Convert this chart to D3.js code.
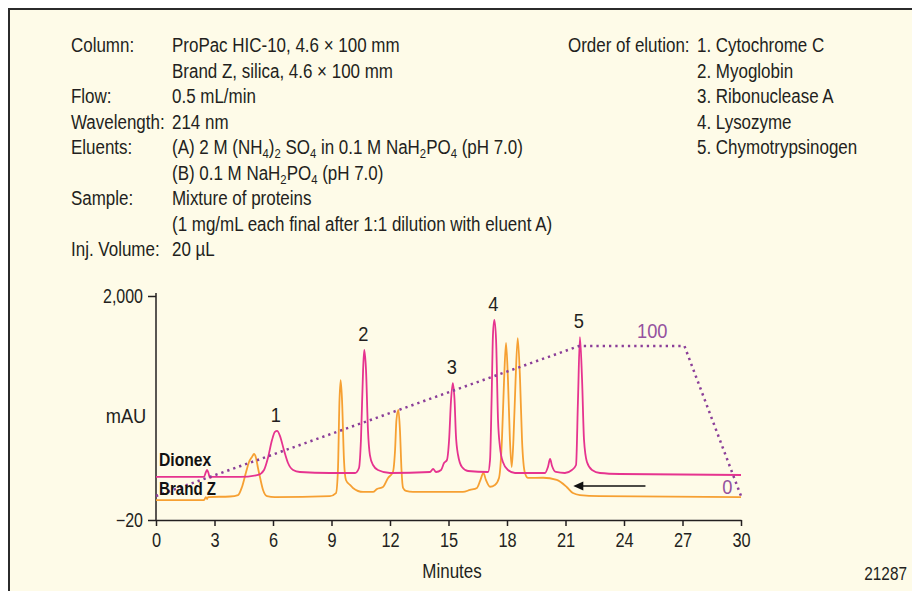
<!DOCTYPE html>
<html><head><meta charset="utf-8">
<script src="https://cdn.jsdelivr.net/npm/d3@7"></script>
<style>
html,body{margin:0;padding:0;background:#fff;}
svg{display:block;}
text{font-family:"Liberation Sans","Arial",sans-serif;fill:#231f20;}
</style></head><body><svg id="c" width="912" height="591"></svg>
<script>
// ---- data ----
const headerLabels = ["Column:", "", "Flow:", "Wavelength:", "Eluents:", "", "Sample:", "", "Inj. Volume:"];
const headerValues = [
  "ProPac HIC-10, 4.6 \u00d7 100 mm",
  "Brand Z, silica, 4.6 \u00d7 100 mm",
  "0.5 mL/min",
  "214 nm",
  "(A) 2 M (NH_4)_2 SO_4 in 0.1 M NaH_2PO_4 (pH 7.0)",
  "(B) 0.1 M NaH_2PO_4 (pH 7.0)",
  "Mixture of proteins",
  "(1 mg/mL each final after 1:1 dilution with eluent A)",
  "20 \u00b5L"
];
const elutionTitle = "Order of elution:";
const elution = ["1. Cytochrome C", "2. Myoglobin", "3. Ribonuclease A", "4. Lysozyme", "5. Chymotrypsinogen"];

const xTicks = [0, 3, 6, 9, 12, 15, 18, 21, 24, 27, 30];
const yTicks = [2000, -20];
const yTickLabels = ["2,000", "\u221220"];

// Dionex (ProPac HIC-10) trace: minutes, mAU
const dionexT = [0, 2.46, 2.56, 2.62, 2.69, 2.77, 2.87, 4.31, 5.23, 5.54, 5.74, 5.95, 6.10, 6.21, 6.36, 6.56, 6.77, 7.03, 7.38, 8.92,
  10.21, 10.41, 10.51, 10.62, 10.68, 10.77, 10.87, 10.97, 11.13, 11.38, 12.0, 14.05, 14.21, 14.36, 14.62, 14.77, 14.92, 15.03, 15.13, 15.22,
  15.31, 15.38, 15.49, 15.69, 16.0, 17.03, 17.13, 17.21, 17.28, 17.35, 17.44, 17.54, 17.64, 17.79, 18.05, 18.41, 19.95, 20.1, 20.21, 20.31,
  20.51, 20.97, 21.33, 21.54, 21.64, 21.74, 21.85, 21.95, 22.1, 22.36, 22.77, 23.79, 30];
const dionexV = [368, 368, 413, 431, 404, 359, 368, 368, 386, 431, 539, 701, 774, 783, 737, 611, 494, 431, 413, 404,
  404, 449, 701, 1333, 1513, 1333, 792, 566, 476, 431, 404, 413, 440, 413, 431, 494, 521, 701, 1062, 1215,
  1062, 747, 566, 458, 422, 413, 521, 1062, 1648, 1784, 1603, 882, 638, 503, 431, 404, 404, 458, 530, 467,
  413, 404, 431, 476, 1062, 1630, 1242, 701, 503, 431, 404, 395, 386];

// Brand Z trace: minutes, mAU
const brandT = [0, 2.46, 2.56, 2.62, 2.67, 3.79, 4.21, 4.41, 4.62, 4.77, 4.92, 5.03, 5.13, 5.23, 5.33, 5.49, 5.69, 6.10, 8.92, 9.23,
  9.33, 9.41, 9.47, 9.54, 9.64, 9.74, 9.95, 10.1, 10.62, 11.13, 11.33, 11.64, 11.9, 12.15, 12.26, 12.33, 12.43, 12.51, 12.59, 12.67,
  12.82, 13.18, 15.74, 16.1, 16.46, 16.62, 16.79, 16.92, 17.13, 17.38, 17.59, 17.74, 17.85, 17.95, 18.05, 18.15, 18.24, 18.33, 18.44, 18.55,
  18.67, 18.77, 18.92, 19.08, 19.85, 20.55, 21.06, 21.38, 21.74, 22.77, 30];
const brandV = [160, 160, 187, 169, 187, 192, 205, 278, 413, 503, 548, 575, 539, 449, 368, 251, 196, 187, 196, 223,
  431, 1062, 1242, 1062, 521, 341, 296, 269, 233, 233, 260, 278, 359, 413, 611, 882, 972, 792, 431, 269,
  242, 233, 233, 251, 269, 332, 404, 341, 280, 296, 359, 701, 1242, 1576, 1242, 701, 458, 701, 1242, 1621,
  1242, 701, 404, 359, 361, 341, 278, 223, 205, 196, 187];

// Gradient (%B)
const gradT = [0, 21.7, 27.1, 30];
const gradB = [0, 100, 100, 0];

const peakNames = ["1", "2", "3", "4", "5"];
const peakTimes = [6.2, 10.68, 15.22, 17.35, 21.74];

const traceLabels = ["Dionex", "Brand Z"];
const arrowFrom = 25.1, arrowTo = 21.4, arrowLevel = 287;

// ---- drawing ----
const svg = d3.select("#c");
const W = 912, H = 591;
svg.append("rect").attr("x", 0).attr("y", 0).attr("width", W).attr("height", H).attr("fill", "#fff");
svg.append("rect").attr("x", 10).attr("y", 10).attr("width", W - 10).attr("height", H - 10).attr("fill", "#fefbe8");
svg.append("path").attr("d", `M9,${H} V9 H${W}`).attr("fill", "none").attr("stroke", "#2b2b2b").attr("stroke-width", 2);

// condensed text helper (no condensed font installed, so squeeze horizontally)
function ctext(parent, x, y, str, o = {}) {
  const t = parent.append("text")
    .attr("transform", `translate(${x},${y}) scale(${o.sx || 0.87},1)`)
    .attr("font-size", o.size || 19)
    .attr("text-anchor", o.anchor || "start");
  if (o.weight) t.attr("font-weight", o.weight);
  if (o.fill) t.style("fill", o.fill);
  if (o.rich) addRich(t, str); else t.text(str);
  return t;
}
function addRich(sel, str) {
  const parts = str.split(/_(\d)/);
  parts.forEach((p, i) => {
    if (i % 2 === 0) { if (p) sel.append("tspan").text(p); }
    else sel.append("tspan").attr("font-size", 13).attr("baseline-shift", "-4").text(p);
  });
}

const lineH = 25.5;
const top0 = 52;
const gH = svg.append("g");
headerLabels.forEach((l, i) => {
  if (l) ctext(gH, 71, top0 + i * lineH, l, {size: 19.5});
  ctext(gH, 172, top0 + i * lineH, headerValues[i], {size: 19.5, rich: true});
});
ctext(gH, 568, top0, elutionTitle, {size: 19.5});
elution.forEach((e, i) => ctext(gH, 697, top0 + i * lineH, e, {size: 19.5}));

const x = d3.scaleLinear().domain([0, 30]).range([156, 741]);
const y = d3.scaleLinear().domain([-20, 2000]).range([520, 296]);
const yG = d3.scaleLinear().domain([0, 100]).range([496, 346]);

// axes
const ax = svg.append("g").attr("transform", `translate(0,${y(-20)})`)
  .call(d3.axisBottom(x).tickValues(xTicks).tickFormat(d3.format("d")).tickSize(6).tickSizeOuter(0).tickPadding(7));
const ay = svg.append("g").attr("transform", `translate(${x(0)},0)`)
  .call(d3.axisLeft(y).tickValues(yTicks).tickFormat((d, i) => yTickLabels[i]).tickSize(8).tickSizeOuter(0).tickPadding(5));
[ax, ay].forEach(g => {
  g.attr("font-family", null).attr("font-size", 19.5);
  g.selectAll("path,line").attr("stroke", "#231f20").attr("stroke-width", 1.5);
  g.selectAll("text").attr("fill", "#231f20");
});
ax.selectAll(".tick text").attr("transform", "scale(0.84,1)");
ay.selectAll(".tick text").attr("transform", "scale(0.82,1)").attr("x", -13 / 0.82);
ay.select(".domain").attr("d", `M0,${y(2000) - 3}V${y(-20) + 1}`);

ctext(svg, 126, 423, "mAU", {size: 21, anchor: "middle", sx: 0.87});
ctext(svg, 452, 578, "Minutes", {size: 19.5, anchor: "middle", sx: 0.87});
ctext(svg, 907, 580, "21287", {size: 18.5, anchor: "end", sx: 0.83});

const line = d3.line().x(d => x(d[0])).y(d => y(d[1])).curve(d3.curveMonotoneX);
const brand = brandT.map((t, i) => [t, brandV[i]]);
const dionex = dionexT.map((t, i) => [t, dionexV[i]]);

svg.append("path").attr("d", line(brand)).attr("fill", "none").attr("stroke", "#f6a032").attr("stroke-width", 1.8).attr("stroke-linejoin", "round");
svg.append("path").attr("d", line(dionex)).attr("fill", "none").attr("stroke", "#e6338f").attr("stroke-width", 1.8).attr("stroke-linejoin", "round");

// gradient
const gline = d3.line().x((d, i) => x(gradT[i])).y(d => yG(d));
svg.append("path").attr("d", gline(gradB)).attr("fill", "none").attr("stroke", "#8b3e98")
  .attr("stroke-width", 2.5).attr("stroke-dasharray", "2.3,4");
ctext(svg, x(25.45), yG(100) - 8, "100", {size: 21, anchor: "middle", fill: "#95519f"});
ctext(svg, x(29.3), yG(0) - 2, "0", {size: 21, anchor: "middle", fill: "#95519f"});

// peak labels
peakNames.forEach((n, i) => {
  const t = peakTimes[i];
  const near = dionex.filter(d => Math.abs(d[0] - t) < 0.3);
  const apex = d3.max(near, d => d[1]);
  ctext(svg, x(t) - 1, y(apex) - 9, n, {size: 21, anchor: "middle"});
});

// trace labels
ctext(svg, 159, 466, traceLabels[0], {size: 18, weight: "bold", fill: "#111", sx: 0.87});
ctext(svg, 159, 495, traceLabels[1], {size: 18, weight: "bold", fill: "#111", sx: 0.84});

// arrow
const ay0 = y(arrowLevel);
svg.append("line").attr("x1", x(arrowFrom)).attr("x2", x(arrowTo) + 8).attr("y1", ay0).attr("y2", ay0).attr("stroke", "#111").attr("stroke-width", 1.6);
svg.append("path").attr("d", `M${x(arrowTo)},${ay0} l10,-4.5 v9 z`).attr("fill", "#111");
</script></body></html>
